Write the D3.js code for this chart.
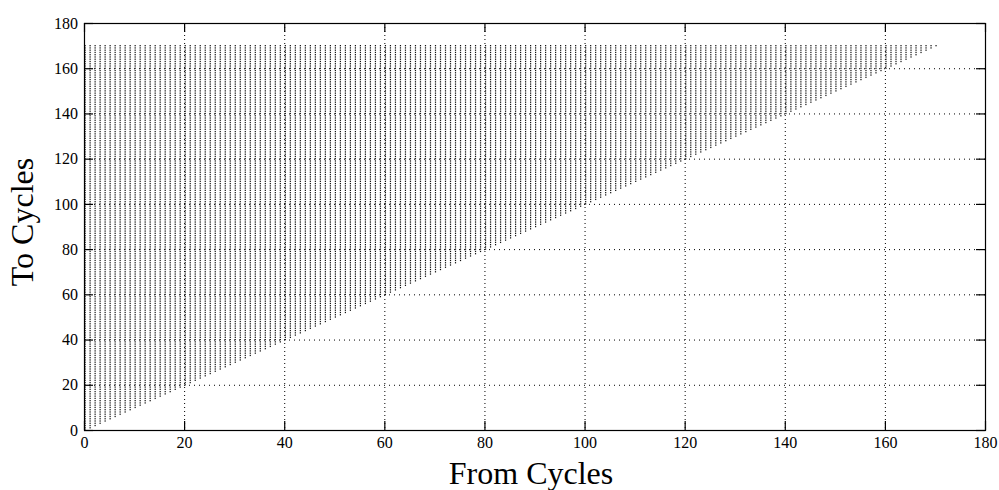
<!DOCTYPE html>
<html>
<head>
<meta charset="utf-8">
<script src="https://cdn.jsdelivr.net/npm/d3@7"></script>
<style>
  body { margin: 0; background: #fff; }
  text { font-family: "Liberation Serif", "DejaVu Serif", serif; fill: #000; }
</style>
</head>
<body>
<div id="chart"></div>
<script>
// dados: pares (from, to) com to >= from, ciclos 0..170
const fromCycles = d3.range(0, 171);
const toMax = 170;
const xTicks = [0, 20, 40, 60, 80, 100, 120, 140, 160, 180];
const yTicks = [0, 20, 40, 60, 80, 100, 120, 140, 160, 180];
const xLabel = "From Cycles";
const yLabel = "To Cycles";

const W = 999, H = 490;
const margin = {top: 23, right: 14, bottom: 60, left: 84};
const width = W - margin.left - margin.right,
      height = H - margin.top - margin.bottom;

const svg = d3.select("#chart").append("svg")
    .attr("width", W).attr("height", H);
const g = svg.append("g").attr("transform", `translate(${margin.left},${margin.top})`);

const x = d3.scaleLinear().domain([0, 180]).range([0, width]);
const y = d3.scaleLinear().domain([0, 180]).range([height, 0]);

// grade pontilhada
g.append("g").selectAll("line").data(xTicks.slice(1, -1)).join("line")
    .attr("x1", d => x(d) + 0.5).attr("x2", d => x(d) + 0.5)
    .attr("y1", 0).attr("y2", height)
    .attr("stroke", "#000").attr("stroke-width", 1).attr("stroke-dasharray", "1,3");
g.append("g").selectAll("line").data(yTicks.slice(1, -1)).join("line")
    .attr("y1", d => y(d) + 0.5).attr("y2", d => y(d) + 0.5)
    .attr("x1", 0).attr("x2", width)
    .attr("stroke", "#000").attr("stroke-width", 1).attr("stroke-dasharray", "1,4");

// pontos
const pts = [];
fromCycles.forEach(f => {
  for (let t = f; t <= toMax; t++) pts.push([f, t]);
});
g.append("g").selectAll("rect").data(pts).join("rect")
    .attr("x", d => x(d[0]) + 0.5)
    .attr("y", d => y(d[1]) - 0.6)
    .attr("width", 1.2).attr("height", 1.3)
    .attr("fill", "#111");

// eixos com ticks para dentro, nos quatro lados
const tl = 9;
g.append("g").attr("transform", `translate(0,${height})`)
    .call(d3.axisBottom(x).tickValues(xTicks).tickSize(-tl).tickPadding(7).tickSizeOuter(0))
    .call(a => a.select(".domain").remove());
g.append("g")
    .call(d3.axisLeft(y).tickValues(yTicks).tickSize(-tl).tickPadding(6).tickSizeOuter(0))
    .call(a => a.select(".domain").remove());
g.append("g")
    .call(d3.axisTop(x).tickValues(xTicks).tickSize(-tl).tickFormat("").tickSizeOuter(0))
    .call(a => a.select(".domain").remove());
g.append("g").attr("transform", `translate(${width},0)`)
    .call(d3.axisRight(y).tickValues(yTicks).tickSize(-tl).tickFormat("").tickSizeOuter(0))
    .call(a => a.select(".domain").remove());
g.selectAll(".tick text").style("font-size", "16px").style("font-family", "Liberation Serif");
g.selectAll(".tick line").attr("stroke", "#000").attr("stroke-width", 1.2);

g.append("rect").attr("x", 0.5).attr("y", 0.5).attr("width", width).attr("height", height)
    .attr("fill", "none").attr("stroke", "#000").attr("stroke-width", 1.2);

svg.append("text").attr("x", 531).attr("y", 484)
    .attr("text-anchor", "middle").style("font-size", "32px").text(xLabel);
svg.append("text").attr("transform", `translate(33,222) rotate(-90)`)
    .attr("text-anchor", "middle").style("font-size", "32px").text(yLabel);
</script>
</body>
</html>
